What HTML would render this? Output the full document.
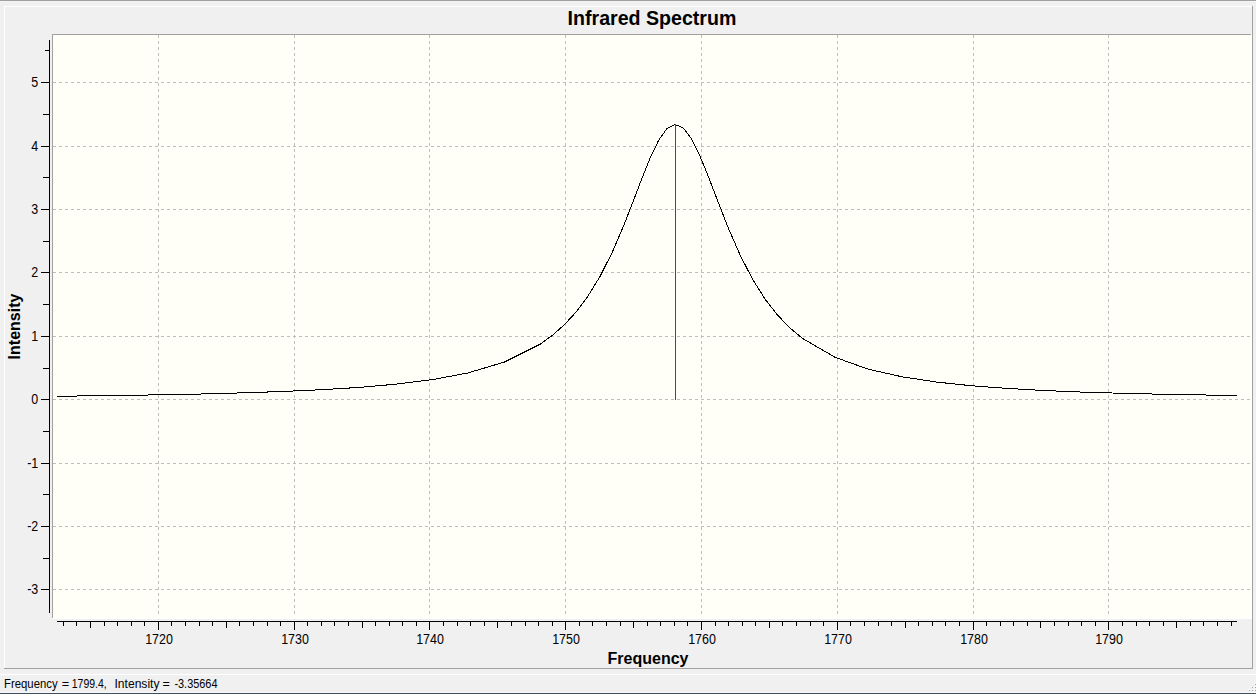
<!DOCTYPE html>
<html lang="en"><head><meta charset="utf-8"><title>Infrared Spectrum</title>
<style>
html,body{margin:0;padding:0;background:#f0f0f0;}
body{width:1256px;height:694px;overflow:hidden;position:relative;font-family:"Liberation Sans",Arial,sans-serif;}
svg{position:absolute;left:0;top:0;display:block;}
.lbl{font-family:"Liberation Sans",Arial,sans-serif;font-size:14px;fill:#000;}
.ttl{font-family:"Liberation Sans",Arial,sans-serif;font-weight:bold;fill:#000;}
.st{font-family:"Liberation Sans",Arial,sans-serif;font-size:12px;fill:#000;}
</style></head><body>
<svg width="1256" height="694" viewBox="0 0 1256 694">
<g shape-rendering="crispEdges">
<rect x="0" y="0" width="1256" height="1" fill="#a0a0a0"/>
<rect x="0" y="692" width="1256" height="1" fill="#f8f8f8"/>
<rect x="0" y="693" width="1256" height="1" fill="#3f4e5e"/>
<rect x="0" y="1" width="1256" height="1" fill="#f5f5f5"/>
<rect x="4" y="6" width="1249" height="1" fill="#ffffff"/>
<rect x="4" y="6" width="1" height="663" fill="#ffffff"/>
<rect x="4" y="668" width="1249" height="1" fill="#a0a0a0"/>
<rect x="1252" y="6" width="1" height="663" fill="#a0a0a0"/>
<rect x="0" y="674" width="1256" height="1" fill="#ffffff"/>
<rect x="52" y="34" width="1200" height="585" fill="#ffffff"/>
<rect x="52" y="34" width="1199" height="584" fill="#a0a0a0"/>
<rect x="53" y="35" width="1198" height="583" fill="#fffff7"/>
<line x1="53" y1="82.5" x2="1251" y2="82.5" stroke="#bebebe" stroke-width="1" stroke-dasharray="3 3"/>
<line x1="53" y1="146.5" x2="1251" y2="146.5" stroke="#bebebe" stroke-width="1" stroke-dasharray="3 3"/>
<line x1="53" y1="209.5" x2="1251" y2="209.5" stroke="#bebebe" stroke-width="1" stroke-dasharray="3 3"/>
<line x1="53" y1="272.5" x2="1251" y2="272.5" stroke="#bebebe" stroke-width="1" stroke-dasharray="3 3"/>
<line x1="53" y1="336.5" x2="1251" y2="336.5" stroke="#bebebe" stroke-width="1" stroke-dasharray="3 3"/>
<line x1="53" y1="399.5" x2="1251" y2="399.5" stroke="#bebebe" stroke-width="1" stroke-dasharray="3 3"/>
<line x1="53" y1="463.5" x2="1251" y2="463.5" stroke="#bebebe" stroke-width="1" stroke-dasharray="3 3"/>
<line x1="53" y1="526.5" x2="1251" y2="526.5" stroke="#bebebe" stroke-width="1" stroke-dasharray="3 3"/>
<line x1="53" y1="589.5" x2="1251" y2="589.5" stroke="#bebebe" stroke-width="1" stroke-dasharray="3 3"/>
<line x1="158.5" y1="35" x2="158.5" y2="617" stroke="#bebebe" stroke-width="1" stroke-dasharray="3 3"/>
<line x1="294.5" y1="35" x2="294.5" y2="617" stroke="#bebebe" stroke-width="1" stroke-dasharray="3 3"/>
<line x1="429.5" y1="35" x2="429.5" y2="617" stroke="#bebebe" stroke-width="1" stroke-dasharray="3 3"/>
<line x1="565.5" y1="35" x2="565.5" y2="617" stroke="#bebebe" stroke-width="1" stroke-dasharray="3 3"/>
<line x1="701.5" y1="35" x2="701.5" y2="617" stroke="#bebebe" stroke-width="1" stroke-dasharray="3 3"/>
<line x1="837.5" y1="35" x2="837.5" y2="617" stroke="#bebebe" stroke-width="1" stroke-dasharray="3 3"/>
<line x1="973.5" y1="35" x2="973.5" y2="617" stroke="#bebebe" stroke-width="1" stroke-dasharray="3 3"/>
<line x1="1108.5" y1="35" x2="1108.5" y2="617" stroke="#bebebe" stroke-width="1" stroke-dasharray="3 3"/>
<rect x="49" y="40" width="1" height="573" fill="#000"/>
<rect x="57" y="621" width="1180" height="1" fill="#000"/>
<rect x="41" y="82" width="8" height="1" fill="#000"/>
<rect x="41" y="146" width="8" height="1" fill="#000"/>
<rect x="41" y="209" width="8" height="1" fill="#000"/>
<rect x="41" y="272" width="8" height="1" fill="#000"/>
<rect x="41" y="336" width="8" height="1" fill="#000"/>
<rect x="41" y="399" width="8" height="1" fill="#000"/>
<rect x="41" y="463" width="8" height="1" fill="#000"/>
<rect x="41" y="526" width="8" height="1" fill="#000"/>
<rect x="41" y="589" width="8" height="1" fill="#000"/>
<rect x="45" y="50" width="4" height="1" fill="#000"/>
<rect x="43" y="114" width="6" height="1" fill="#000"/>
<rect x="43" y="177" width="6" height="1" fill="#000"/>
<rect x="43" y="241" width="6" height="1" fill="#000"/>
<rect x="43" y="304" width="6" height="1" fill="#000"/>
<rect x="43" y="368" width="6" height="1" fill="#000"/>
<rect x="43" y="431" width="6" height="1" fill="#000"/>
<rect x="43" y="494" width="6" height="1" fill="#000"/>
<rect x="43" y="558" width="6" height="1" fill="#000"/>
<rect x="63" y="622" width="1" height="4" fill="#000"/>
<rect x="76" y="622" width="1" height="4" fill="#000"/>
<rect x="90" y="622" width="1" height="6" fill="#000"/>
<rect x="104" y="622" width="1" height="4" fill="#000"/>
<rect x="117" y="622" width="1" height="4" fill="#000"/>
<rect x="131" y="622" width="1" height="4" fill="#000"/>
<rect x="144" y="622" width="1" height="4" fill="#000"/>
<rect x="158" y="622" width="1" height="8" fill="#000"/>
<rect x="171" y="622" width="1" height="4" fill="#000"/>
<rect x="185" y="622" width="1" height="4" fill="#000"/>
<rect x="199" y="622" width="1" height="4" fill="#000"/>
<rect x="212" y="622" width="1" height="4" fill="#000"/>
<rect x="226" y="622" width="1" height="6" fill="#000"/>
<rect x="239" y="622" width="1" height="4" fill="#000"/>
<rect x="253" y="622" width="1" height="4" fill="#000"/>
<rect x="267" y="622" width="1" height="4" fill="#000"/>
<rect x="280" y="622" width="1" height="4" fill="#000"/>
<rect x="294" y="622" width="1" height="8" fill="#000"/>
<rect x="307" y="622" width="1" height="4" fill="#000"/>
<rect x="321" y="622" width="1" height="4" fill="#000"/>
<rect x="334" y="622" width="1" height="4" fill="#000"/>
<rect x="348" y="622" width="1" height="4" fill="#000"/>
<rect x="362" y="622" width="1" height="6" fill="#000"/>
<rect x="375" y="622" width="1" height="4" fill="#000"/>
<rect x="389" y="622" width="1" height="4" fill="#000"/>
<rect x="402" y="622" width="1" height="4" fill="#000"/>
<rect x="416" y="622" width="1" height="4" fill="#000"/>
<rect x="429" y="622" width="1" height="8" fill="#000"/>
<rect x="443" y="622" width="1" height="4" fill="#000"/>
<rect x="457" y="622" width="1" height="4" fill="#000"/>
<rect x="470" y="622" width="1" height="4" fill="#000"/>
<rect x="484" y="622" width="1" height="4" fill="#000"/>
<rect x="497" y="622" width="1" height="6" fill="#000"/>
<rect x="511" y="622" width="1" height="4" fill="#000"/>
<rect x="525" y="622" width="1" height="4" fill="#000"/>
<rect x="538" y="622" width="1" height="4" fill="#000"/>
<rect x="552" y="622" width="1" height="4" fill="#000"/>
<rect x="565" y="622" width="1" height="8" fill="#000"/>
<rect x="579" y="622" width="1" height="4" fill="#000"/>
<rect x="592" y="622" width="1" height="4" fill="#000"/>
<rect x="606" y="622" width="1" height="4" fill="#000"/>
<rect x="620" y="622" width="1" height="4" fill="#000"/>
<rect x="633" y="622" width="1" height="6" fill="#000"/>
<rect x="647" y="622" width="1" height="4" fill="#000"/>
<rect x="660" y="622" width="1" height="4" fill="#000"/>
<rect x="674" y="622" width="1" height="4" fill="#000"/>
<rect x="687" y="622" width="1" height="4" fill="#000"/>
<rect x="701" y="622" width="1" height="8" fill="#000"/>
<rect x="715" y="622" width="1" height="4" fill="#000"/>
<rect x="728" y="622" width="1" height="4" fill="#000"/>
<rect x="742" y="622" width="1" height="4" fill="#000"/>
<rect x="755" y="622" width="1" height="4" fill="#000"/>
<rect x="769" y="622" width="1" height="6" fill="#000"/>
<rect x="782" y="622" width="1" height="4" fill="#000"/>
<rect x="796" y="622" width="1" height="4" fill="#000"/>
<rect x="810" y="622" width="1" height="4" fill="#000"/>
<rect x="823" y="622" width="1" height="4" fill="#000"/>
<rect x="837" y="622" width="1" height="8" fill="#000"/>
<rect x="850" y="622" width="1" height="4" fill="#000"/>
<rect x="864" y="622" width="1" height="4" fill="#000"/>
<rect x="878" y="622" width="1" height="4" fill="#000"/>
<rect x="891" y="622" width="1" height="4" fill="#000"/>
<rect x="905" y="622" width="1" height="6" fill="#000"/>
<rect x="918" y="622" width="1" height="4" fill="#000"/>
<rect x="932" y="622" width="1" height="4" fill="#000"/>
<rect x="945" y="622" width="1" height="4" fill="#000"/>
<rect x="959" y="622" width="1" height="4" fill="#000"/>
<rect x="973" y="622" width="1" height="8" fill="#000"/>
<rect x="986" y="622" width="1" height="4" fill="#000"/>
<rect x="1000" y="622" width="1" height="4" fill="#000"/>
<rect x="1013" y="622" width="1" height="4" fill="#000"/>
<rect x="1027" y="622" width="1" height="4" fill="#000"/>
<rect x="1040" y="622" width="1" height="6" fill="#000"/>
<rect x="1054" y="622" width="1" height="4" fill="#000"/>
<rect x="1068" y="622" width="1" height="4" fill="#000"/>
<rect x="1081" y="622" width="1" height="4" fill="#000"/>
<rect x="1095" y="622" width="1" height="4" fill="#000"/>
<rect x="1108" y="622" width="1" height="8" fill="#000"/>
<rect x="1122" y="622" width="1" height="4" fill="#000"/>
<rect x="1136" y="622" width="1" height="4" fill="#000"/>
<rect x="1149" y="622" width="1" height="4" fill="#000"/>
<rect x="1163" y="622" width="1" height="4" fill="#000"/>
<rect x="1176" y="622" width="1" height="6" fill="#000"/>
<rect x="1190" y="622" width="1" height="4" fill="#000"/>
<rect x="1203" y="622" width="1" height="4" fill="#000"/>
<rect x="1217" y="622" width="1" height="4" fill="#000"/>
<rect x="1231" y="622" width="1" height="4" fill="#000"/>
</g>
<polyline shape-rendering="crispEdges" fill="none" stroke="#000" stroke-width="1" points="57.5,396.2 69.9,396.1 106.1,395.6 142.3,395.1 178.5,394.5 214.7,393.7 250.9,392.6 287.1,391.3 323.3,389.6 359.5,387.4 395.7,384.2 431.9,379.7 468.1,372.9 504.3,362.1 540.5,344.0 552.9,334.9 564.2,324.9 575.5,312.7 587.5,296.8 600.5,275.6 612.5,251.7 624.5,223.6 635.5,195.2 642.7,176.4 650.8,156.5 658.8,140.0 666.9,128.7 674.9,124.4 683.0,127.7 691.1,138.1 699.2,154.2 707.3,173.9 715.5,195.2 728.0,227.3 740.5,255.9 753.0,280.0 765.5,299.7 778.0,315.6 790.5,328.4 802.8,338.6 835.1,357.3 868.0,369.1 902.0,376.8 937.0,382.1 972.0,385.8 1007.0,388.4 1042.0,390.4 1077.0,391.9 1112.0,393.0 1147.0,393.9 1182.0,394.6 1217.0,395.2 1237.0,395.5"/>
<rect shape-rendering="crispEdges" x="675" y="124" width="1" height="276" fill="#ff0000"/>
<text class="lbl" transform="translate(38.3,87) scale(.89,1)" text-anchor="end">5</text>
<text class="lbl" transform="translate(38.3,151) scale(.89,1)" text-anchor="end">4</text>
<text class="lbl" transform="translate(38.3,214) scale(.89,1)" text-anchor="end">3</text>
<text class="lbl" transform="translate(38.3,277) scale(.89,1)" text-anchor="end">2</text>
<text class="lbl" transform="translate(38.3,341) scale(.89,1)" text-anchor="end">1</text>
<text class="lbl" transform="translate(38.3,404) scale(.89,1)" text-anchor="end">0</text>
<text class="lbl" transform="translate(38.3,468) scale(.89,1)" text-anchor="end">-1</text>
<text class="lbl" transform="translate(38.3,531) scale(.89,1)" text-anchor="end">-2</text>
<text class="lbl" transform="translate(38.3,594) scale(.89,1)" text-anchor="end">-3</text>
<text class="lbl" transform="translate(159,644) scale(.89,1)" text-anchor="middle">1720</text>
<text class="lbl" transform="translate(295,644) scale(.89,1)" text-anchor="middle">1730</text>
<text class="lbl" transform="translate(430,644) scale(.89,1)" text-anchor="middle">1740</text>
<text class="lbl" transform="translate(566,644) scale(.89,1)" text-anchor="middle">1750</text>
<text class="lbl" transform="translate(702,644) scale(.89,1)" text-anchor="middle">1760</text>
<text class="lbl" transform="translate(838,644) scale(.89,1)" text-anchor="middle">1770</text>
<text class="lbl" transform="translate(974,644) scale(.89,1)" text-anchor="middle">1780</text>
<text class="lbl" transform="translate(1109,644) scale(.89,1)" text-anchor="middle">1790</text>
<text class="ttl" x="652" y="25" text-anchor="middle" font-size="19.6px">Infrared Spectrum</text>
<text class="ttl" x="648" y="663.5" text-anchor="middle" font-size="16px">Frequency</text>
<text class="ttl" transform="translate(19.5,326.5) rotate(-90)" text-anchor="middle" font-size="16px">Intensity</text>
<text class="st" x="4.1" y="688" textLength="53.5" lengthAdjust="spacingAndGlyphs">Frequency</text>
<text class="st" x="61.8" y="688" textLength="7.4" lengthAdjust="spacingAndGlyphs">=</text>
<text class="st" x="71.8" y="688" textLength="34.9" lengthAdjust="spacingAndGlyphs">1799.4,</text>
<text class="st" x="114.5" y="688" textLength="45" lengthAdjust="spacingAndGlyphs">Intensity</text>
<text class="st" x="162.5" y="688" textLength="7.4" lengthAdjust="spacingAndGlyphs">=</text>
<text class="st" x="174.4" y="688" textLength="43.1" lengthAdjust="spacingAndGlyphs">-3.35664</text>
<g shape-rendering="crispEdges">
<rect x="1254" y="683" width="1" height="1" fill="#ffffff"/>
<rect x="1255" y="684" width="1" height="1" fill="#a6a6a6"/>
<rect x="1251" y="686" width="1" height="1" fill="#ffffff"/>
<rect x="1252" y="687" width="1" height="1" fill="#a6a6a6"/>
<rect x="1254" y="686" width="1" height="1" fill="#ffffff"/>
<rect x="1255" y="687" width="1" height="1" fill="#a6a6a6"/>
<rect x="1248" y="689" width="1" height="1" fill="#ffffff"/>
<rect x="1249" y="690" width="1" height="1" fill="#a6a6a6"/>
<rect x="1251" y="689" width="1" height="1" fill="#ffffff"/>
<rect x="1252" y="690" width="1" height="1" fill="#a6a6a6"/>
<rect x="1254" y="689" width="1" height="1" fill="#ffffff"/>
<rect x="1255" y="690" width="1" height="1" fill="#a6a6a6"/>
</g>
</svg>
</body></html>
